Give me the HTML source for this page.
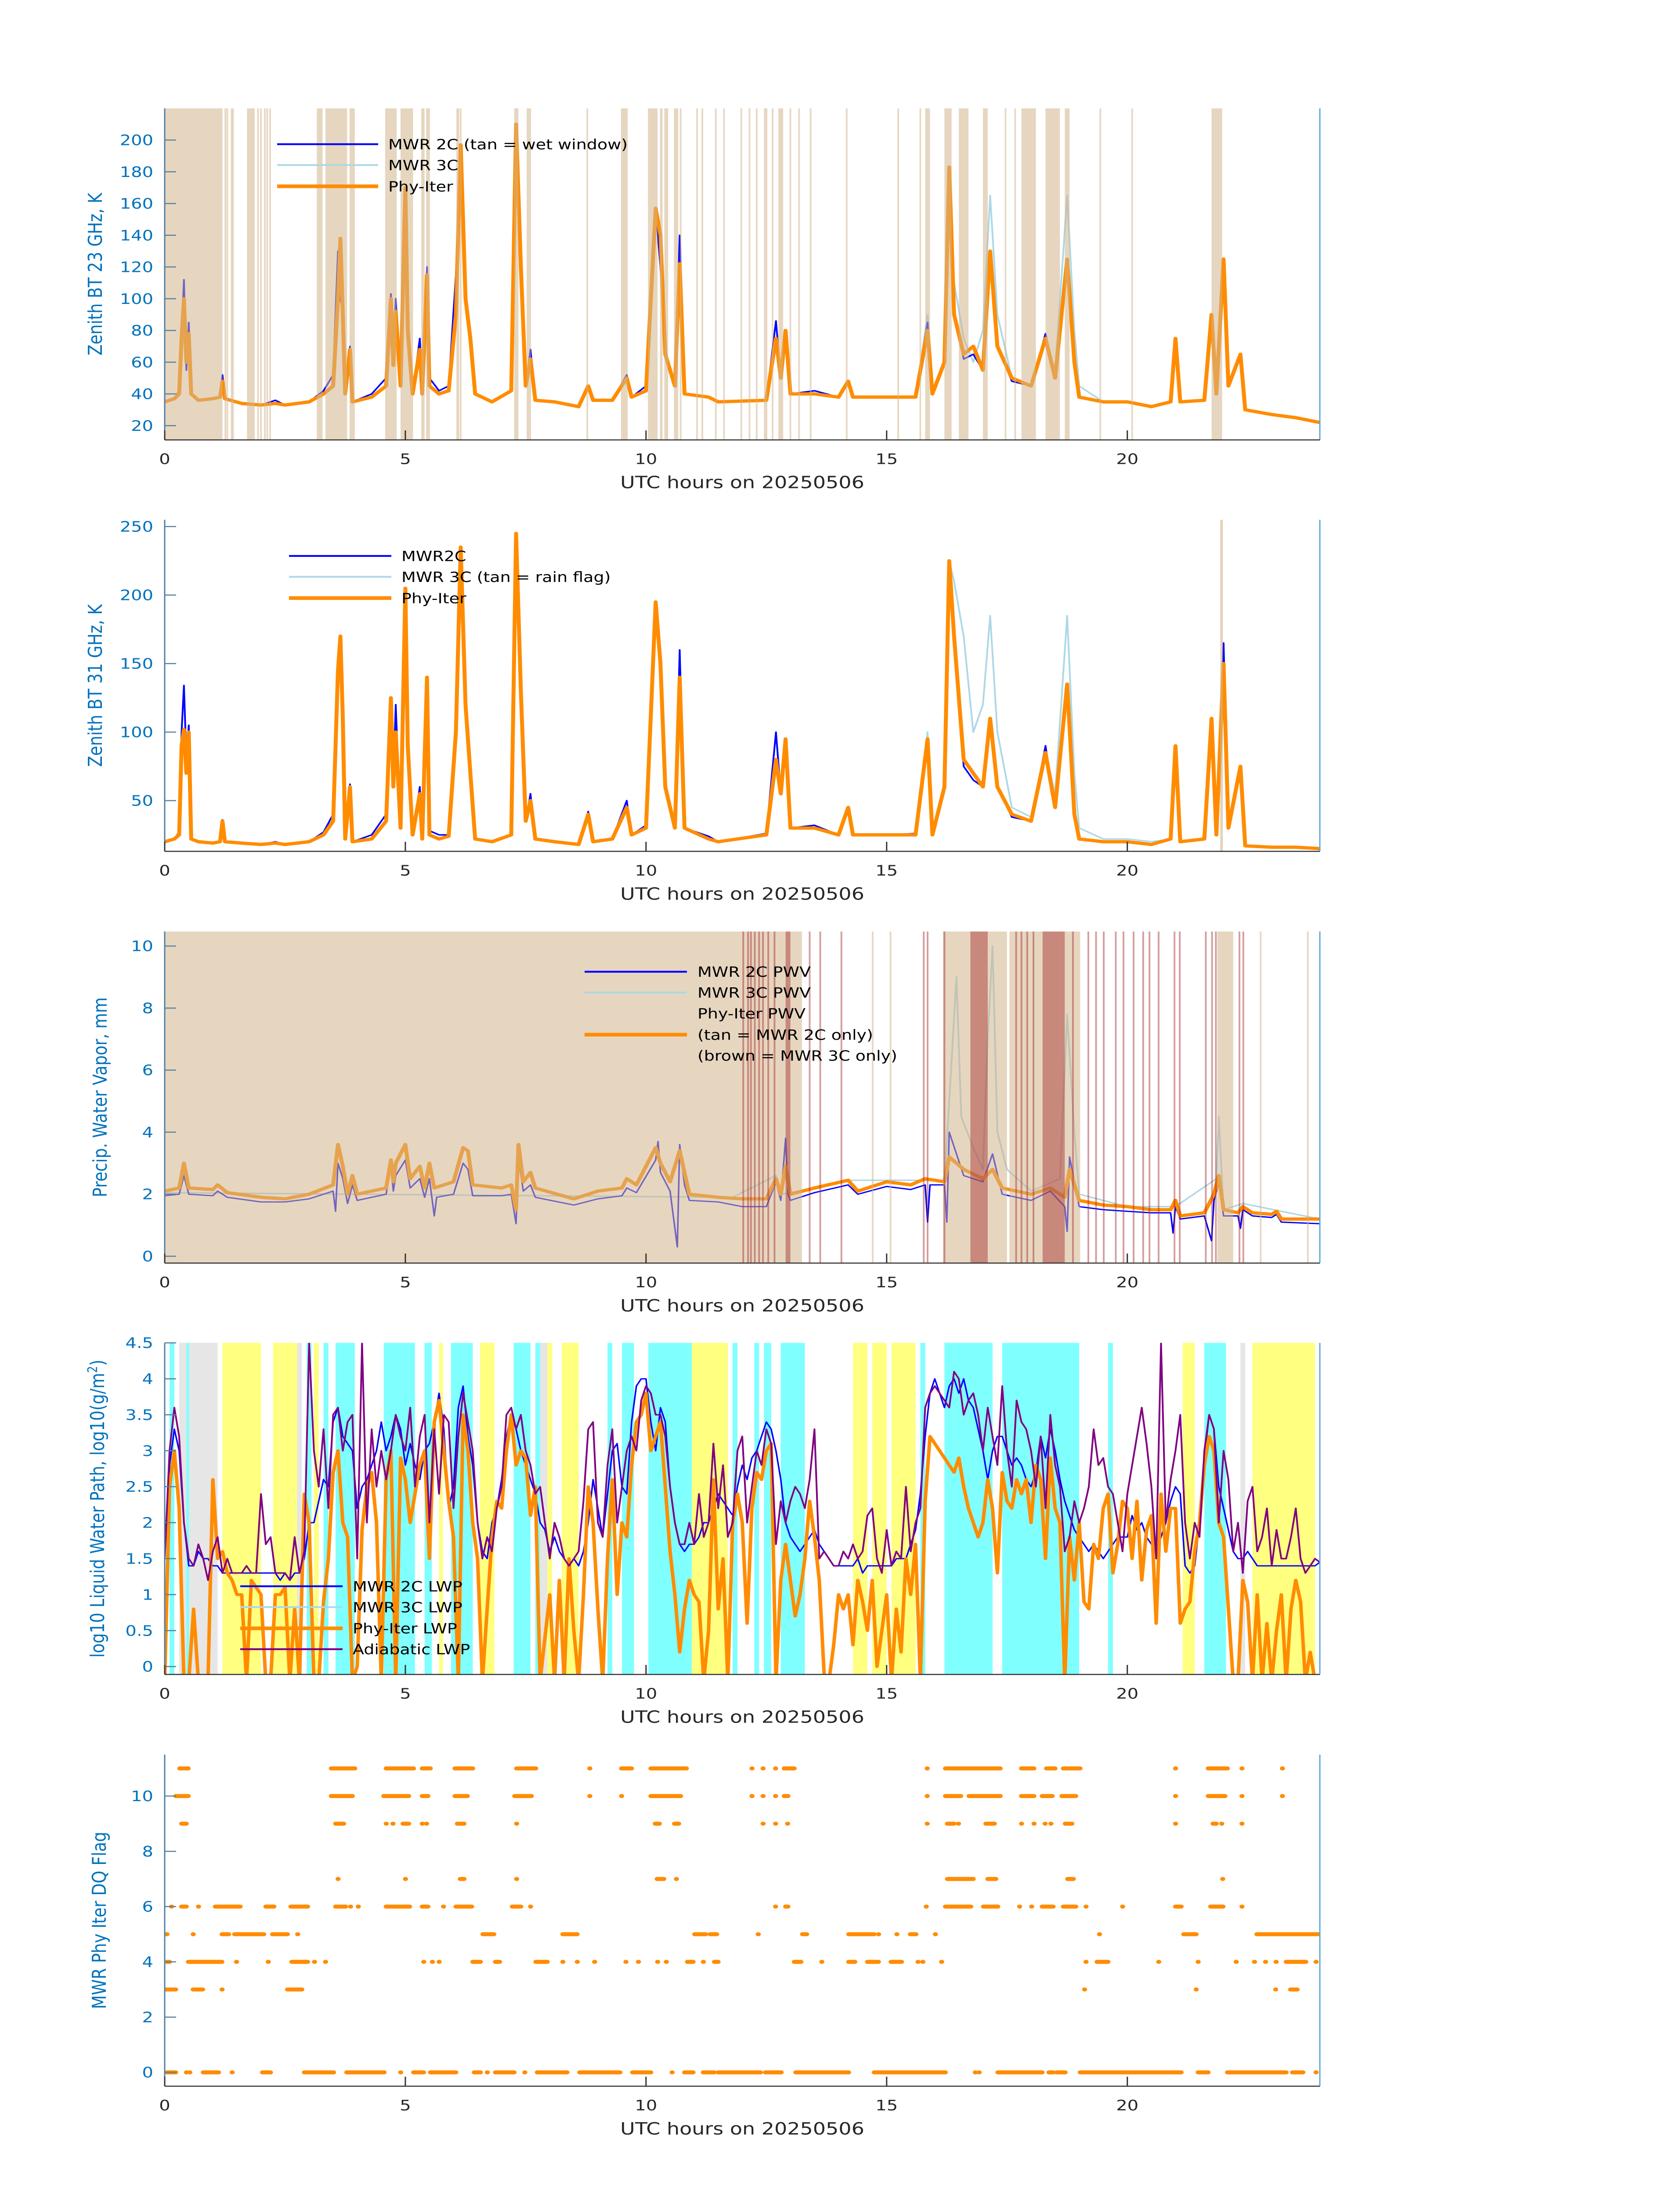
<!DOCTYPE html>
<html><head><meta charset="utf-8"><style>
html,body{margin:0;padding:0;background:#fff;overflow:hidden;}
svg{display:block;position:absolute;left:0;top:0;width:100vw;height:100vh;font-family:"DejaVu Sans","Liberation Sans",sans-serif;}
</style></head><body>
<svg id="fig" xmlns="http://www.w3.org/2000/svg" viewBox="0 0 3825 6000" preserveAspectRatio="none">
<rect width="3825" height="6000" fill="#fff"/>
</svg>
<script>
// ---------- Panel 1 & 2 data (brightness temperatures) ----------
const tBT = [0,0.2,0.3,0.35,0.4,0.45,0.5,0.55,0.7,1.0,
 1.15,1.2,1.25,1.6,2.0,2.3,2.5,3.0,3.3,3.5,
 3.6,3.65,3.7,3.75,3.85,3.9,4.3,4.6,4.7,4.75,
 4.8,4.9,5.0,5.05,5.15,5.3,5.35,5.45,5.5,5.7,
 5.9,6.05,6.15,6.25,6.35,6.45,6.8,7.2,7.3,7.4,
 7.5,7.6,7.7,8.1,8.6,8.8,8.9,9.3,9.6,9.7,
 10.0,10.2,10.3,10.4,10.6,10.7,10.8,11.3,11.5,12.5,
 12.7,12.8,12.9,13.0,13.5,14.0,14.2,14.3,15.0,15.6,
 15.85,15.95,16.2,16.3,16.4,16.6,16.8,17.0,17.15,17.3,
 17.6,18.0,18.3,18.5,18.75,18.9,19.0,19.5,20.0,20.5,
 20.9,21.0,21.1,21.6,21.75,21.85,22.0,22.1,22.35,22.45,
 23.0,23.5,24.0];
const bt23Phy = [35,37,40,75,100,60,78,40,36,37, 38,48,37,34,33,34,33,35,40,45, 100,138,90,40,68,35,38,45,100,58,
 92,45,170,80,40,68,40,115,45,40, 42,90,197,100,75,40,35,42,210,120, 45,62,36,35,32,45,36,36,50,38,
 42,157,140,65,45,122,40,38,35,36, 75,50,80,40,40,38,48,38,38,38, 80,40,60,183,90,65,70,55,130,70,
 50,45,75,50,125,60,38,35,35,32, 35,75,35,36,90,40,125,45,65,30, 27,25,22];
const bt23Mwr2c = [35,37,42,78,112,55,85,40,36,37, 38,52,37,34,33,36,33,35,42,52, 130,100,92,40,70,35,40,50,103,60,
 100,45,170,85,40,75,40,120,50,42, 45,115,197,100,75,40,35,42,210,120, 45,68,36,35,32,45,36,36,52,38,
 45,157,120,65,45,140,40,38,35,36, 86,50,80,40,42,38,48,38,38,38, 85,40,60,183,90,62,65,55,125,70,
 48,45,78,50,120,60,38,35,35,32, 35,75,35,36,90,40,125,45,65,30, 27,25,22];
const bt23Mwr3c = [35,37,40,75,100,60,78,40,36,37, 38,48,37,34,33,34,33,35,40,45, 100,138,90,40,68,35,38,45,100,58,
 92,45,170,80,40,68,40,115,45,40, 42,90,197,100,75,40,35,42,210,120, 45,62,36,35,32,45,36,36,50,38,
 42,157,140,65,45,122,40,38,35,36, 75,50,80,40,42,38,48,38,38,38, 90,40,60,183,110,75,60,80,165,90,
 50,45,75,55,165,80,45,35,35,32, 35,75,35,36,90,40,125,45,65,30, 27,25,22];
const bt31Phy = [20,22,25,90,102,70,100,22,20,19, 20,35,20,19,18,19,18,20,25,35, 145,170,110,22,60,20,22,35,125,60,
 100,30,205,90,25,55,22,140,25,22, 24,100,235,120,70,22,20,25,245,130, 35,50,22,20,18,40,20,22,45,25,
 30,195,150,60,30,140,30,22,20,25, 80,55,95,30,30,25,45,25,25,25, 95,25,60,225,170,80,70,60,110,60,
 40,35,85,45,135,40,22,20,20,18, 22,90,20,22,110,25,150,30,75,17, 16,16,15];
const bt31Mwr2c = [20,22,27,100,134,80,105,22,20,19, 20,36,20,19,18,20,18,20,27,40, 145,140,115,22,62,20,25,40,125,65,
 120,30,205,95,25,60,22,140,28,25, 25,110,235,125,72,22,20,25,245,130, 35,55,22,20,18,42,20,22,50,25,
 32,195,150,62,32,160,30,24,20,26, 100,55,95,30,32,25,45,25,25,26, 95,25,60,225,170,75,65,60,105,60,
 38,35,90,45,135,40,22,20,20,18, 22,90,20,22,110,25,165,30,75,17, 16,16,15];
const bt31Mwr3c = [20,22,25,90,102,70,100,22,20,19, 20,35,20,19,18,19,18,20,25,35, 145,170,110,22,60,20,22,35,125,60,
 100,30,205,90,25,55,22,140,25,22, 24,100,235,120,70,22,20,25,245,130, 35,50,22,20,18,40,20,22,45,25,
 30,195,150,60,30,140,30,22,20,25, 80,55,95,30,32,25,45,25,25,26, 100,25,60,225,210,170,100,120,185,100,
 45,38,85,55,185,70,30,22,22,20, 22,90,20,22,110,25,150,30,75,17, 16,16,15];
const wetWindow = [[0,1.2],[1.71,1.87],[3.16,3.28],[3.34,3.79],[3.84,3.95],[4.58,4.82],[4.9,5.16],[5.33,5.4],[5.43,5.51],
 [6.06,6.12],[7.26,7.35],[7.52,7.61],[9.48,9.62],[10.04,10.24],[10.29,10.33],[10.38,10.46],[10.58,10.67],
 [12.45,12.52],[12.75,12.85],[15.8,15.9],[16.2,16.35],[16.5,16.7],[17.0,17.1],[17.8,18.1],[18.3,18.6],[18.7,18.8],[21.75,21.97]];
const wetThin = [1.26,1.3,1.39,1.42,1.94,2.0,2.08,2.13,2.19,6.15,8.78,10.72,11.06,11.17,11.45,11.62,11.98,12.15,12.3,12.63,13.0,13.18,13.42,14.17,15.24,15.7,17.47,17.67,19.44,20.1];
const rainFlag = [[21.93,21.97]];

// ---------- Panel 3 data (PWV) ----------
const tPwvPhy = [0,0.3,0.4,0.5,1,1.1,1.3,2,2.5,3,3.5,3.6,3.7,3.8,3.9,4,4.6,4.7,4.75,4.8,5,5.1,5.3,5.4,5.5,5.6,6,6.2,6.3,6.4,7,7.2,7.3,7.35,7.45,7.6,7.7,8.5,9,9.5,9.6,9.8,10.2,10.3,10.5,10.7,10.9,11.5,12,12.5,12.7,12.8,12.9,13,13.5,14.2,14.4,15,15.5,15.8,16.2,16.3,16.6,17,17.2,17.4,18,18.4,18.7,18.8,19,19.5,20,20.5,20.9,21,21.1,21.6,21.8,21.9,22,22.3,22.4,22.6,23,23.1,23.2,24];
const pwvPhy = [2.1,2.2,3.0,2.2,2.15,2.3,2.05,1.9,1.85,2.0,2.3,3.6,2.9,2.0,2.6,2.0,2.2,3.1,2.4,3.0,3.6,2.5,2.9,2.2,3.0,2.2,2.4,3.5,3.4,2.3,2.2,2.3,1.5,3.6,2.4,2.7,2.2,1.85,2.1,2.2,2.5,2.3,3.5,3.0,2.4,3.4,2.0,1.9,1.85,1.85,2.5,2.0,2.9,2.0,2.2,2.45,2.1,2.4,2.3,2.5,2.4,3.2,2.8,2.5,2.8,2.2,2.0,2.2,1.9,2.8,1.8,1.65,1.6,1.5,1.5,1.8,1.3,1.4,2.0,2.6,1.5,1.4,1.6,1.4,1.35,1.45,1.2,1.2];
const tPwv2c = [0,0.3,0.4,0.5,1,1.1,1.3,2,2.5,3,3.5,3.55,3.6,3.7,3.8,3.9,4,4.6,4.7,4.75,4.8,5.0,5.1,5.3,5.4,5.5,5.6,5.65,6.0,6.2,6.3,6.4,7.0,7.2,7.3,7.35,7.45,7.6,7.7,8.5,9.0,9.5,9.6,9.8,10.2,10.25,10.3,10.5,10.65,10.7,10.8,10.9,11.5,12,12.5,12.7,12.8,12.9,12.95,13.0,13.5,14.2,14.4,15,15.5,15.8,15.85,15.9,16.2,16.25,16.3,16.6,17.0,17.2,17.4,18.0,18.4,18.7,18.75,18.8,19.0,19.5,20,20.5,20.9,20.95,21.0,21.1,21.6,21.75,21.8,21.9,22.0,22.3,22.35,22.4,22.6,23,23.1,23.2,24];
const pwv2c = [1.95,2.0,2.6,2.0,1.95,2.1,1.9,1.75,1.75,1.85,2.1,1.45,3.0,2.5,1.7,2.3,1.8,2.0,2.9,2.1,2.6,3.1,2.2,2.5,1.9,2.5,1.3,1.9,2.0,3.0,2.8,1.95,1.95,2.0,1.05,3.2,2.1,2.3,1.9,1.65,1.85,1.95,2.2,2.05,3.1,3.7,2.7,2.1,0.3,3.6,2.3,1.8,1.75,1.6,1.6,2.4,1.8,3.8,2.0,1.8,2.05,2.3,2.0,2.25,2.15,2.3,1.1,2.3,2.3,1.1,4.0,2.6,2.4,3.3,2.0,1.8,2.1,1.6,0.8,3.2,1.6,1.5,1.45,1.4,1.4,0.75,1.6,1.2,1.3,0.5,1.8,2.4,1.3,1.3,0.9,1.5,1.3,1.25,1.35,1.1,1.05];
const tPwv3c = [0,11.8,12.7,12.8,13,14.2,15.8,16.2,16.3,16.45,16.55,16.8,17.0,17.1,17.2,17.3,17.5,18.0,18.6,18.75,18.9,19.0,20,21,21.85,21.9,22,22.4,24];
const pwv3c = [2.05,1.9,2.6,2.0,2.05,2.45,2.45,2.4,5.0,9.0,4.5,3.5,2.8,7.0,10.0,4.0,2.8,2.1,2.5,7.8,4.0,2.0,1.6,1.6,2.5,4.5,1.5,1.7,1.2];
const pwvTan = [[0,11.78],[11.78,13.24],[16.17,17.5],[17.55,19.02],[21.87,22.2]];
const pwvTanThin = [14.71,15.08,22.77,23.75];
const pwvBrown = [[12.9,13.0],[16.74,17.1],[18.24,18.7]];
const pwvBrownThin = [12.02,12.12,12.18,12.26,12.35,12.43,12.54,12.67,13.4,13.62,14.06,15.77,15.85,16.2,17.69,17.8,17.92,18.05,18.87,19.19,19.35,19.51,19.76,19.92,20.13,20.33,20.46,20.65,20.98,21.09,21.63,21.76,21.84,22.33,22.41];

// ---------- Panel 4 data (LWP, 0.1 h steps from 0 to 24) ----------
const lwpAdiabatic = [1.5,3.0,3.6,3.2,2.0,1.5,1.4,1.7,1.5,1.2, 1.6,1.8,1.3,1.5,1.3,1.3,1.3,1.4,1.3,1.3,
 2.4,1.7,1.8,1.3,1.3,1.3,1.2,1.8,1.3,1.6, 4.5,3.0,2.5,3.3,2.2,3.5,3.6,3.0,3.4,3.5,
 1.5,4.5,2.0,3.3,2.5,3.0,2.6,3.0,3.5,3.2, 3.0,3.6,2.5,3.2,3.5,2.0,3.3,2.4,3.5,3.4,
 2.2,3.2,3.8,3.4,3.0,2.0,1.5,1.8,1.6,2.2, 2.5,3.5,3.6,3.3,3.5,3.0,2.8,2.4,2.5,2.0,
 1.5,2.0,1.8,1.5,1.4,1.5,1.6,2.3,3.3,3.4, 2.0,1.8,2.8,3.3,2.0,2.5,3.0,3.2,3.0,3.7,
 3.9,3.8,3.5,3.5,3.2,2.5,2.0,1.7,1.7,2.0, 1.7,2.4,1.8,2.0,3.1,2.2,2.8,1.8,2.0,3.0,
 3.2,2.0,2.5,3.0,2.8,3.3,3.1,1.7,2.3,2.0, 2.3,2.5,2.4,2.2,2.6,3.3,1.5,1.6,1.5,1.4,
 1.4,1.6,1.5,1.7,1.5,1.6,2.1,2.2,1.5,1.3, 1.9,1.4,1.6,1.5,2.5,1.6,2.0,2.2,3.6,3.8,
 3.9,3.8,3.7,3.6,4.1,4.0,3.5,3.7,3.8,3.5, 3.0,3.6,3.2,2.8,3.9,3.0,2.5,3.7,3.4,3.3,
 3.0,2.5,3.2,2.2,3.5,2.8,2.5,1.6,1.8,2.3, 2.0,2.2,2.5,3.3,2.8,2.9,2.5,2.4,2.0,1.6,
 2.4,2.8,3.2,3.6,3.1,2.5,1.5,4.5,2.0,2.6, 3.0,3.5,2.0,1.5,2.0,1.8,3.0,3.5,3.3,2.0,
 3.0,2.6,1.6,2.0,1.3,2.3,2.5,1.6,1.8,2.2, 1.4,1.9,1.5,1.5,1.8,2.2,1.5,1.3,1.4,1.5, 1.45];
const lwp2c = [1.5,2.8,3.3,3.0,2.0,1.4,1.4,1.6,1.5,1.5, 1.4,1.4,1.3,1.3,1.3,1.3,1.3,1.3,1.3,1.3,
 1.3,1.3,1.3,1.3,1.2,1.3,1.2,1.3,1.3,1.5, 2.0,2.0,2.3,2.6,2.5,3.4,3.6,3.2,3.1,3.0,
 2.2,2.5,2.6,2.8,3.0,3.4,3.0,3.2,3.5,3.3, 2.8,3.1,2.8,2.6,3.0,3.1,3.4,3.8,3.3,2.2,
 2.5,3.6,3.9,3.2,2.8,2.0,1.6,1.5,2.0,2.2, 2.6,3.2,3.5,3.3,3.0,2.8,2.6,2.4,2.0,1.9,
 1.6,1.8,1.6,1.5,1.4,1.5,1.4,1.6,2.0,2.6, 2.2,1.8,2.4,3.0,3.1,2.5,2.4,3.4,3.9,4.0,
 4.0,3.4,3.0,3.6,3.4,2.5,2.0,1.7,1.6,1.7, 1.7,1.8,2.0,2.0,2.2,2.4,2.3,2.2,2.1,2.5,
 2.8,2.6,2.9,3.0,3.2,3.4,3.3,3.0,2.6,2.0, 1.8,1.7,1.6,1.7,1.8,1.9,1.7,1.6,1.5,1.4,
 1.4,1.4,1.4,1.4,1.5,1.3,1.4,1.4,1.4,1.4, 1.4,1.4,1.5,1.5,1.5,1.7,1.9,2.4,3.2,3.8,
 4.0,3.8,3.6,3.9,4.0,3.8,4.0,3.7,3.6,3.3, 3.0,2.6,3.0,3.2,3.2,3.0,2.8,2.9,2.8,2.6,
 2.5,2.7,3.2,2.9,3.3,3.0,2.6,2.3,2.1,1.9, 1.8,1.7,1.6,1.7,1.6,1.5,1.6,1.7,1.8,1.8,
 1.8,2.1,1.9,2.0,1.8,1.7,1.6,1.8,2.0,2.3, 2.5,2.4,1.4,1.3,1.4,2.0,2.9,3.5,3.3,2.5,
 2.2,1.9,1.6,1.5,1.5,1.6,1.5,1.4,1.4,1.4, 1.4,1.4,1.4,1.4,1.4,1.4,1.4,1.4,1.4,1.4, 1.45];
const lwpPhy = [-0.2,2.5,3.0,2.2,-0.2,-0.2,0.8,-0.2,-0.2,-0.2, 2.6,1.5,1.6,1.3,1.2,1.0,1.0,-0.2,1.2,1.1,
 1.0,-0.2,-0.2,1.0,1.0,1.1,-0.2,0.8,-0.2,2.4, 2.0,-0.2,-0.2,0.9,1.5,2.7,3.0,2.0,1.8,-0.2,
 0.0,1.9,2.5,2.7,2.0,-0.2,2.6,3.0,-0.2,2.9, 2.6,2.0,2.4,2.8,3.0,1.5,3.4,3.7,3.0,2.3,
 1.8,-0.2,3.5,3.0,2.0,1.5,-0.2,0.8,1.8,2.3, 2.2,3.0,3.5,2.8,3.0,2.9,2.1,2.5,-0.2,0.4,
 1.0,-0.2,1.2,-0.2,1.5,0.5,-0.2,1.0,2.5,2.0, 0.8,-0.2,1.5,2.6,1.0,2.0,1.8,2.8,3.4,3.5,
 3.8,3.0,3.2,3.4,2.5,1.6,1.0,0.2,0.8,1.2, 1.0,0.9,-0.2,0.5,2.6,0.8,1.5,-0.2,2.0,2.4,
 2.0,0.6,2.2,2.7,2.6,3.0,3.1,-0.2,1.2,1.7, 1.2,0.7,1.0,1.5,2.3,1.8,1.2,-0.1,-0.2,0.3,
 1.0,0.8,1.0,0.3,1.2,0.9,0.5,1.2,0.0,0.5, 1.0,-0.2,0.8,0.2,1.5,1.0,1.7,-0.2,2.3,3.2,
 3.1,3.0,2.9,2.8,2.7,2.9,2.5,2.2,2.0,1.8, 2.0,2.6,2.2,1.3,2.7,2.3,2.2,2.6,2.4,2.6,
 2.0,2.8,2.6,1.5,2.9,2.2,2.0,-0.2,1.8,1.2, 2.0,0.9,0.8,1.7,1.5,2.2,2.4,1.3,1.7,2.3,
 2.2,1.5,2.3,1.2,1.9,2.1,0.6,2.4,1.6,2.2, 2.2,0.6,0.8,0.9,1.6,2.0,2.8,3.2,3.0,2.0,
 1.8,0.8,-0.2,-0.2,1.2,0.9,-0.2,1.0,-0.2,0.6, -0.2,0.5,1.0,-0.2,0.8,1.2,0.9,-0.2,0.2,-0.2, -0.2];
const lwpCyan = [[0.1,0.2],[3.55,3.95],[4.55,5.2],[5.4,5.55],[6.0,6.4],[7.25,7.6],[9.5,9.75],[10.05,10.95],[12.25,12.35],[12.45,12.6],[12.8,13.3],[16.2,17.2],[17.4,19.0],[21.6,22.05],[0.45,0.5],[2.95,3.05],[3.3,3.4],[5.95,6.0],[7.7,7.8],[9.2,9.3],[11.8,11.9],[15.7,15.8],[19.6,19.7]];
const lwpYellow = [[1.2,2.0],[2.25,2.75],[5.7,5.78],[6.55,6.85],[8.25,8.6],[10.95,11.7],[13.1,13.25],[14.3,14.6],[14.7,15.0],[15.1,15.6],[21.15,21.4],[22.6,23.9],[3.1,3.2],[7.95,8.05]];
const lwpGray = [[0.3,1.1],[2.6,2.85],[7.8,7.95],[22.35,22.45]];

// ---------- Panel 5 data (DQ flag runs, hours) ----------
const dqLevels = [11,10,9,7,6,5,4,3,0];
const dq11 = [[0.31,0.49],[3.46,3.95],[4.6,5.17],[5.35,5.52],[6.03,6.4],[7.31,7.71],[8.83,8.83],[9.49,9.7],[10.1,10.84],[12.2,12.2],[12.43,12.43],[12.69,12.69],[12.87,13.08],[15.84,15.84],[16.22,17.36],[17.8,18.06],[18.32,18.5],[18.67,19.02],[21.0,21.0],[21.68,22.08],[22.38,22.38],[23.22,23.22]];
const dq10 = [[0.23,0.49],[3.46,3.9],[4.55,5.07],[5.35,5.47],[6.03,6.29],[7.27,7.62],[8.83,8.83],[9.49,9.49],[10.1,10.72],[12.2,12.2],[12.43,12.43],[12.69,12.69],[12.87,12.95],[15.84,15.84],[16.22,16.54],[16.71,17.36],[17.8,18.06],[18.23,18.44],[18.64,18.93],[21.0,21.0],[21.68,22.03],[22.38,22.38],[23.22,23.22]];
const dq9 = [[0.35,0.45],[3.55,3.72],[4.6,4.6],[4.74,4.74],[4.95,5.07],[5.35,5.35],[5.44,5.44],[6.08,6.22],[7.31,7.31],[10.19,10.28],[10.59,10.68],[12.43,12.43],[12.69,12.69],[12.94,12.94],[15.84,15.84],[16.26,16.4],[16.49,16.49],[17.06,17.24],[17.8,17.8],[18.06,18.06],[18.29,18.29],[18.41,18.41],[18.71,18.85],[21.0,21.0],[21.78,21.85],[21.96,21.96],[22.38,22.38]];
const dq7 = [[3.6,3.6],[5.0,5.0],[6.14,6.22],[7.31,7.31],[10.23,10.37],[10.63,10.63],[16.26,16.8],[17.1,17.27],[18.76,18.88],[21.98,21.98]];
const dq6 = [[0.14,0.14],[0.35,0.45],[0.7,0.7],[1.05,1.57],[2.1,2.27],[2.62,2.97],[3.55,3.76],[3.86,3.86],[4.02,4.02],[4.6,5.09],[5.35,5.47],[5.79,5.79],[6.05,6.38],[7.22,7.4],[7.6,7.6],[12.69,12.69],[12.9,12.95],[15.82,15.82],[16.22,16.75],[17.01,17.31],[17.76,17.76],[18.01,18.01],[18.23,18.46],[18.67,18.93],[19.14,19.14],[19.9,19.9],[21.0,21.12],[21.73,21.99],[22.38,22.38]];
const dq5 = [[0,0.05],[0.59,0.59],[1.19,1.33],[1.45,2.06],[2.24,2.55],[2.76,2.76],[6.61,6.84],[8.27,8.57],[11.01,11.24],[11.33,11.47],[12.33,12.33],[13.25,13.34],[14.21,14.74],[14.83,14.83],[15.21,15.21],[15.49,15.61],[16.01,16.01],[19.42,19.42],[21.17,21.43],[22.69,24.0]];
const dq4 = [[0.05,0.1],[0.49,1.19],[1.49,1.49],[2.15,2.15],[2.64,2.97],[3.11,3.11],[3.34,3.34],[5.38,5.38],[5.56,5.56],[5.7,5.7],[6.4,6.56],[6.87,6.96],[7.71,7.95],[8.27,8.27],[8.57,8.57],[8.93,8.93],[9.58,9.58],[9.84,9.84],[10.24,10.24],[10.42,10.42],[10.86,10.98],[11.19,11.19],[11.42,11.5],[13.08,13.22],[13.65,13.65],[14.21,14.34],[14.6,14.83],[15.09,15.31],[15.65,15.65],[15.75,15.75],[16.14,16.14],[19.14,19.14],[19.37,19.6],[20.65,20.65],[21.47,21.47],[22.26,22.26],[22.64,22.64],[22.87,22.87],[23.09,23.09],[23.3,23.71],[23.92,23.92]];
const dq3 = [[0,0.23],[0.59,0.79],[1.19,1.19],[2.55,2.85],[19.11,19.11],[21.43,21.43],[23.08,23.08],[23.39,23.53]];
const dq0 = [[0.05,0.23],[0.45,0.45],[0.52,0.52],[0.8,1.12],[1.4,1.4],[2.03,2.2],[2.9,3.51],[3.78,4.56],[4.9,4.9],[5.17,5.38],[5.52,6.05],[6.43,6.56],[6.7,6.7],[6.87,7.26],[7.48,7.48],[7.74,8.36],[8.62,9.46],[9.72,10.1],[10.54,10.54],[10.8,10.98],[11.19,11.42],[11.5,12.38],[12.48,12.81],[13.11,14.21],[14.74,16.22],[16.84,16.84],[16.92,16.92],[17.31,18.23],[18.37,18.46],[18.53,18.71],[19.02,21.12],[21.47,21.68],[22.08,23.3],[23.43,23.65],[23.92,23.92]];
const dqRuns = [dq11,dq10,dq9,dq7,dq6,dq5,dq4,dq3,dq0];

const xTicks = [0,5,10,15,20];
const yTicks1 = [20,40,60,80,100,120,140,160,180,200];
const yTicks2 = [50,100,150,200,250];
const yTicks3 = [0,2,4,6,8,10];
const yTicks4 = [0,0.5,1,1.5,2,2.5,3,3.5,4,4.5];
const yTicks5 = [0,2,4,6,8,10];

// ---------- rendering ----------
const NS = "http://www.w3.org/2000/svg";
const svg = document.getElementById('fig');
const L = 375, R = 3005, H = 906;
const tops = [296,1420,2545,3669,4794];
function mk(tag, attrs, parent){
  const e = document.createElementNS(NS, tag);
  for (const k in attrs) e.setAttribute(k, attrs[k]);
  (parent||svg).appendChild(e);
  return e;
}
function xs(h){ return L + (h/24)*(R-L); }
function makeY(top, lo, hi){ return v => top + H - (v-lo)/(hi-lo)*H; }

const defs = mk('defs', {});
tops.forEach((tp,i)=>{
  const cp = mk('clipPath', {id:'clip'+i}, defs);
  mk('rect', {x:L, y:tp, width:R-L, height:H}, cp);
});

function panelGroup(i, name){
  const g = mk('g', {'clip-path':'url(#clip'+i+')'});
  
  
  return g;
}
function drawSpans(g, spans, y0, color, op, name){
  spans.forEach(s=>{
    const w = Math.max(xs(s[1])-xs(s[0]), 6);
    const r = mk('rect', {x:xs(s[0]), y:y0, width:w, height:H, fill:color, 'fill-opacity':op}, g);
    
    
  });
}
function drawThin(g, list, y0, color, op, name){
  list.forEach(h=>{
    const r = mk('rect', {x:xs(h)-2, y:y0, width:4, height:H, fill:color, 'fill-opacity':op}, g);
    
    
  });
}
function drawLine(g, ts, vs, y, color, w, name, op){
  let d = '';
  for (let k=0;k<vs.length;k++){ d += (k?'L':'M') + xs(ts[k]).toFixed(1) + ' ' + y(vs[k]).toFixed(1); }
  const p = mk('path', {d:d, fill:'none', stroke:color, 'stroke-width':w, 'stroke-linejoin':'round', 'stroke-opacity':op||1}, g);
  
  
  return p;
}
function axes(i, y, ticks, fmt, ylabel, ylabelX){
  const tp = tops[i], bt = tp + H;
  const g = mk('g', {});
  
  
  const la = mk('line', {x1:L, y1:tp, x2:L, y2:bt, stroke:'#4f7fa8', 'stroke-width':3}, g);
  
  
  const ra = mk('line', {x1:R, y1:tp, x2:R, y2:bt, stroke:'#5fa8d8', 'stroke-width':3}, g);
  
  
  const ba = mk('line', {x1:L, y1:bt, x2:R, y2:bt, stroke:'#333', 'stroke-width':3}, g);
  
  
  ticks.forEach(v=>{
    const yy = y(v);
    const tl = mk('line', {x1:L, y1:yy, x2:L+26, y2:yy, stroke:'#5a7f9a', 'stroke-width':3}, g);
    
    
    const tx = mk('text', {x:L-26, y:yy+14, 'text-anchor':'end', 'font-size':40, fill:'#0072bd'}, g);
    tx.textContent = fmt(v);
    
    
  });
  xTicks.forEach(h=>{
    const xx = xs(h);
    const tl = mk('line', {x1:xx, y1:bt, x2:xx, y2:bt-26, stroke:'#333', 'stroke-width':3}, g);
    
    
    const tx = mk('text', {x:xx, y:bt+66, 'text-anchor':'middle', 'font-size':40, fill:'#262626'}, g);
    tx.textContent = String(h);
    
    
  });
  const xl = mk('text', {x:(L+R)/2, y:bt+132, 'text-anchor':'middle', 'font-size':46, fill:'#262626'}, g);
  xl.textContent = 'UTC hours on 20250506';
  
  
  const cy = tp + H/2;
  const yl = mk('text', {x:ylabelX, y:cy, 'text-anchor':'middle', 'font-size':44, fill:'#0072bd', transform:'rotate(-90 '+ylabelX+' '+cy+')'}, g);
  yl.innerHTML = ylabel;
  
  
}
function legend(x1, x2, tx, rows){
  const g = mk('g', {});
  
  
  rows.forEach(r=>{
    if (r.color){
      const ln = mk('line', {x1:x1, y1:r.y, x2:x2, y2:r.y, stroke:r.color, 'stroke-width':r.w}, g);
      
      
    }
    if (r.text){
      const t = mk('text', {x:tx, y:r.y+14, 'font-size':38, fill:'#000'}, g);
      t.textContent = r.text;
      
      
    }
  });
}

// Panel 1
(function(){
  const i=0, y=makeY(tops[i],11,220), g=panelGroup(i,'panel-bt23');
  drawLine(g, tBT, bt23Mwr3c, y, '#add8e6', 4, 'series-mwr3c-bt23');
  drawLine(g, tBT, bt23Mwr2c, y, '#0000ff', 4, 'series-mwr2c-bt23');
  drawLine(g, tBT, bt23Phy, y, '#ff8c00', 9, 'series-phyiter-bt23');
  drawSpans(g, wetWindow, tops[i], 'rgb(210,180,140)', 0.55, 'wet-window-span');
  drawThin(g, wetThin, tops[i], 'rgb(210,180,140)', 0.5, 'wet-window-line');
  axes(i, y, yTicks1, v=>String(v), 'Zenith BT 23 GHz, K', 232);
  legend(631, 861, 884, [{y:394,color:'#0000ff',w:5,text:'MWR 2C (tan = wet window)'},{y:451,color:'#add8e6',w:5,text:'MWR 3C'},{y:509,color:'#ff8c00',w:10,text:'Phy-Iter'}]);
})();
// Panel 2
(function(){
  const i=1, y=makeY(tops[i],13,255), g=panelGroup(i,'panel-bt31');
  drawLine(g, tBT, bt31Mwr3c, y, '#add8e6', 4, 'series-mwr3c-bt31');
  drawLine(g, tBT, bt31Mwr2c, y, '#0000ff', 4, 'series-mwr2c-bt31');
  drawLine(g, tBT, bt31Phy, y, '#ff8c00', 9, 'series-phyiter-bt31');
  drawSpans(g, rainFlag, tops[i], 'rgb(210,180,140)', 0.6, 'rain-flag-span');
  axes(i, y, yTicks2, v=>String(v), 'Zenith BT 31 GHz, K', 232);
  legend(658, 891, 914, [{y:1519,color:'#0000ff',w:5,text:'MWR2C'},{y:1576,color:'#add8e6',w:5,text:'MWR 3C (tan = rain flag)'},{y:1634,color:'#ff8c00',w:10,text:'Phy-Iter'}]);
})();
// Panel 3
(function(){
  const i=2, y=makeY(tops[i],-0.22,10.47), g=panelGroup(i,'panel-pwv');
  drawLine(g, tPwv3c, pwv3c, y, '#add8e6', 4, 'series-mwr3c-pwv');
  drawLine(g, tPwv2c, pwv2c, y, '#0000ff', 3.5, 'series-mwr2c-pwv');
  drawLine(g, tPwvPhy, pwvPhy, y, '#ff8c00', 9, 'series-phyiter-pwv');
  drawSpans(g, pwvTan, tops[i], 'rgb(210,180,140)', 0.55, 'mwr2c-only-span');
  drawThin(g, pwvTanThin, tops[i], 'rgb(210,180,140)', 0.5, 'mwr2c-only-line');
  drawSpans(g, pwvBrown, tops[i], 'rgb(165,42,42)', 0.45, 'mwr3c-only-span');
  drawThin(g, pwvBrownThin, tops[i], 'rgb(165,42,42)', 0.45, 'mwr3c-only-line');
  axes(i, y, yTicks3, v=>String(v), 'Precip. Water Vapor, mm', 243);
  legend(1331, 1564, 1588, [{y:2655,color:'#0000ff',w:5,text:'MWR 2C PWV'},{y:2712,color:'#add8e6',w:5,text:'MWR 3C PWV'},{y:2769,text:'Phy-Iter PWV'},{y:2827,color:'#ff8c00',w:10,text:'(tan = MWR 2C only)'},{y:2884,text:'(brown = MWR 3C only)'}]);
})();
// Panel 4
(function(){
  const i=3, y=makeY(tops[i],-0.11,4.5), g=panelGroup(i,'panel-lwp');
  drawSpans(g, lwpGray, tops[i], '#e6e6e6', 1, 'lwp-gray-span');
  drawSpans(g, lwpYellow, tops[i], '#ffff80', 1, 'lwp-yellow-span');
  drawSpans(g, lwpCyan, tops[i], '#80ffff', 1, 'lwp-cyan-span');
  const tl = lwpPhy.map((_,k)=>k/10);
  drawLine(g, tl, lwp2c, y, '#0000ff', 3.5, 'series-mwr2c-lwp');
  drawLine(g, tl, lwpPhy, y, '#ff8c00', 8, 'series-phyiter-lwp');
  drawLine(g, tl, lwpAdiabatic, y, '#800080', 4, 'series-adiabatic-lwp');
  axes(i, y, yTicks4, v=>String(v), 'log10 Liquid Water Path, log10(g/m<tspan dy="-16" font-size="30">2</tspan><tspan dy="16">)</tspan>', 237);
  legend(547, 780, 803, [{y:4334,color:'#0000ff',w:5,text:'MWR 2C LWP'},{y:4391,color:'#add8e6',w:5,text:'MWR 3C LWP'},{y:4449,color:'#ff8c00',w:10,text:'Phy-Iter LWP'},{y:4506,color:'#800080',w:5,text:'Adiabatic LWP'}]);
})();
// Panel 5
(function(){
  const i=4, y=makeY(tops[i],-0.5,11.5), g=panelGroup(i,'panel-dq-flag');
  dqLevels.forEach((lev,j)=>{
    dqRuns[j].forEach(run=>{
      const a = xs(run[0]), b = xs(run[1]);
      const ln = mk('line', {x1:a, y1:y(lev), x2:Math.max(b,a+0.5), y2:y(lev), stroke:'#ff8c00', 'stroke-width':11, 'stroke-linecap':'round'}, g);
      
      
    });
  });
  axes(i, y, yTicks5, v=>String(v), 'MWR Phy Iter DQ Flag', 241);
})();
</script>
</body></html>
